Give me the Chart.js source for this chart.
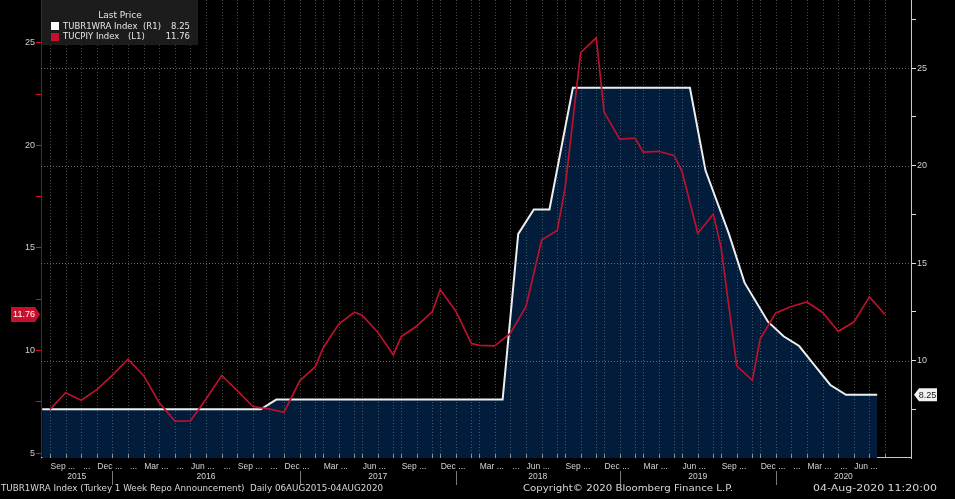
<!DOCTYPE html>
<html>
<head>
<meta charset="utf-8">
<script src="https://cdn.jsdelivr.net/npm/chart.js@4.4.1/dist/chart.umd.min.js"></script>
<style>
  html, body { margin: 0; padding: 0; background: #000; }
  #wrap { width: 955px; height: 499px; position: relative; }
</style>
</head>
<body>
<div id="wrap"><canvas id="chart" width="955" height="499"></canvas></div>
<script>
// --- DATOS ---
// Turkey 1 week repo (announcement dates) -> right axis
const repoDates = [
    '2015-08-20', '2015-09-24', '2015-10-21', '2015-11-24', '2015-12-22',
    '2016-01-19', '2016-02-23', '2016-03-24', '2016-04-21', '2016-05-24', '2016-06-21',
    '2016-07-19', '2016-08-23', '2016-09-22', '2016-10-20', '2016-11-24', '2016-12-20',
    '2017-01-24', '2017-03-16', '2017-04-26', '2017-06-15', '2017-07-27', '2017-09-14',
    '2017-10-26', '2017-12-14',
    '2018-01-18', '2018-03-07', '2018-04-25', '2018-05-28', '2018-06-07', '2018-07-24',
    '2018-09-13', '2018-10-25', '2018-12-13',
    '2019-01-16', '2019-03-06', '2019-04-25', '2019-06-12', '2019-07-25', '2019-09-12',
    '2019-10-24', '2019-12-12',
    '2020-01-16', '2020-02-19', '2020-03-17', '2020-04-22', '2020-05-21', '2020-06-25', '2020-07-23'
];
const repoValues = [
    7.5, 7.5, 7.5, 7.5, 7.5,
    7.5, 7.5, 7.5, 7.5, 7.5, 7.5,
    7.5, 7.5, 7.5, 7.5, 8.0, 8.0,
    8.0, 8.0, 8.0, 8.0, 8.0, 8.0,
    8.0, 8.0,
    8.0, 8.0, 8.0, 16.5, 17.75, 17.75,
    24.0, 24.0, 24.0,
    24.0, 24.0, 24.0, 24.0, 19.75, 16.5,
    14.0, 12.0,
    11.25, 10.75, 9.75, 8.75, 8.25, 8.25, 8.25
];

// Turkey CPI YoY, monthly from Aug 2015 (month-end dates) -> left axis
const cpiFirstMonth = [2015, 8];
const cpiValues = [
    7.14, 7.95, 7.58, 8.10, 8.81,
    9.58, 8.78, 7.46, 6.57, 6.58, 7.64, 8.79, 8.05, 7.28, 7.16, 7.00, 8.53,
    9.22, 10.13, 11.29, 11.87, 11.72, 10.90, 9.79, 10.68, 11.20, 11.90, 12.98, 11.92,
    10.35, 10.26, 10.23, 10.85, 12.15, 15.39, 15.85, 17.90, 24.52, 25.24, 21.62, 20.30,
    20.35, 19.67, 19.71, 19.50, 18.71, 15.72, 16.65, 15.01, 9.26, 8.55, 10.56, 11.84,
    12.15, 12.37, 11.86, 10.94, 11.39, 12.62, 11.76
];

// month labels Sep 2015 .. Jul 2020 ('' = not shown)
const monthTickLabels = [
    'Sep', '...', '...', 'Dec',
    '...', '...', 'Mar', '...', '...', 'Jun', '...', '...', 'Sep', '...', '...', 'Dec',
    '...', '', 'Mar', '...', '', 'Jun', '...', '', 'Sep', '...', '', 'Dec',
    '...', '', 'Mar', '...', '...', 'Jun', '...', '', 'Sep', '...', '', 'Dec',
    '...', '', 'Mar', '...', '', 'Jun', '...', '', 'Sep', '...', '', 'Dec',
    '...', '...', 'Mar', '...', '...', 'Jun', '...'
];
const yearLabels = ['2015', '2016', '2017', '2018', '2019', '2020'];
const leftTicks = [5, 10, 15, 20, 25];
const rightTicks = [10, 15, 20, 25];

const lastRepo = repoValues[repoValues.length - 1];
const lastCpi = cpiValues[cpiValues.length - 1];

// --- EJE X: una posicion por fecha con dato (como Bloomberg) ---
function monthEnd(y, m) {
    const d = new Date(Date.UTC(y, m, 0));
    return d.toISOString().slice(0, 10);
}
const cpiDates = cpiValues.map((v, i) => {
    const m0 = cpiFirstMonth[1] - 1 + i;
    return monthEnd(cpiFirstMonth[0] + Math.floor(m0 / 12), (m0 % 12) + 1);
});
const allDates = Array.from(new Set(repoDates.concat(cpiDates))).sort();
const slot = {};
allDates.forEach((d, i) => slot[d] = i);

const repoPoints = repoDates.map((d, i) => ({ x: slot[d], y: repoValues[i] }));
const cpiPoints = cpiDates.map((d, i) => ({ x: slot[d], y: cpiValues[i] }));
const monthBounds = cpiDates.map(d => slot[d]); // start of next month

const FONT = '"Liberation Sans", Arial, sans-serif';
const DV = '"DejaVu Sans", sans-serif';

// texto estirado a un ancho dado
function fitText(c, text, x, width, y) {
    const w = c.measureText(text).width;
    c.save();
    c.translate(x, y);
    c.scale(width / w, 1);
    c.textAlign = 'left';
    c.fillText(text, 0, 0);
    c.restore();
}

// --- PLUGIN: grid sobre el relleno, etiquetas y textos ---
const overlay = {
    id: 'overlay',
    beforeDatasetsDraw(chart) {
        const { ctx, chartArea: a } = chart;
        ctx.save();
        ctx.strokeStyle = '#c8c8c8';
        ctx.lineWidth = 1;
        ctx.beginPath();
        ctx.moveTo(a.left, a.bottom - 0.5);
        ctx.lineTo(a.right, a.bottom - 0.5);
        ctx.stroke();
        ctx.restore();
    },
    afterDatasetDraw(chart, args) {
        if (args.index !== 0) return;
        const { ctx, chartArea: a, scales } = chart;
        ctx.save();
        ctx.beginPath();
        ctx.rect(a.left, a.top, a.right - a.left, a.bottom - a.top);
        ctx.clip();
        ctx.lineWidth = 1;
        ctx.setLineDash([1, 2]);
        ctx.strokeStyle = 'rgba(150,150,150,0.45)';
        monthBounds.forEach(i => {
            const px = Math.round(scales.x.getPixelForValue(i)) + 0.5;
            ctx.beginPath();
            ctx.moveTo(px, a.top);
            ctx.lineTo(px, a.bottom);
            ctx.stroke();
        });
        ctx.strokeStyle = 'rgba(170,170,170,0.6)';
        rightTicks.forEach(v => {
            const py = Math.round(scales.yR.getPixelForValue(v)) + 0.5;
            ctx.beginPath();
            ctx.moveTo(a.left, py);
            ctx.lineTo(a.right, py);
            ctx.stroke();
        });
        ctx.setLineDash([]);
        ctx.strokeStyle = 'rgba(190,190,190,0.7)';
        monthBounds.forEach(i => {
            const px = Math.round(scales.x.getPixelForValue(i)) + 0.5;
            ctx.beginPath();
            ctx.moveTo(px, a.bottom - 4);
            ctx.lineTo(px, a.bottom);
            ctx.stroke();
        });
        ctx.restore();
    },
    afterDraw(chart) {
        const { ctx, chartArea: a, scales } = chart;
        ctx.save();

        // leyenda
        ctx.fillStyle = '#1c1c1c';
        ctx.fillRect(a.left + 1, 0, 156, 45);
        ctx.textBaseline = 'middle';
        ctx.font = '9px ' + DV;
        ctx.fillStyle = '#e6e6e6';
        ctx.textAlign = 'center';
        ctx.fillText('Last Price', 120, 15.5);
        ctx.font = '8.5px ' + DV;
        ctx.textAlign = 'left';
        ctx.fillStyle = '#ffffff';
        ctx.fillRect(51, 22, 8, 8);
        ctx.fillStyle = '#c8102e';
        ctx.fillRect(51, 33, 8, 8);
        ctx.fillStyle = '#e6e6e6';
        ctx.fillText('TUBR1WRA Index', 63, 26.5);
        ctx.fillText('(R1)', 143, 26.5);
        ctx.fillText('TUCPIY Index', 63, 37);
        ctx.fillText('(L1)', 128, 37);
        ctx.textAlign = 'right';
        ctx.fillText(lastRepo.toFixed(2), 190, 26.5);
        ctx.fillText(lastCpi.toFixed(2), 190, 37);

        // etiqueta roja eje izquierdo
        const yc = scales.yL.getPixelForValue(lastCpi);
        ctx.fillStyle = '#c8102e';
        ctx.beginPath();
        ctx.moveTo(11, yc - 7.5);
        ctx.lineTo(35, yc - 7.5);
        ctx.lineTo(40, yc);
        ctx.lineTo(35, yc + 7.5);
        ctx.lineTo(11, yc + 7.5);
        ctx.closePath();
        ctx.fill();
        ctx.fillStyle = '#ffffff';
        ctx.textAlign = 'center';
        ctx.font = '9px ' + FONT;
        ctx.fillText(lastCpi.toFixed(2), 24, yc + 0.5);

        // etiqueta blanca eje derecho
        const yr = scales.yR.getPixelForValue(lastRepo);
        ctx.fillStyle = '#f2f2f2';
        ctx.beginPath();
        ctx.moveTo(914, yr);
        ctx.lineTo(919, yr - 6.5);
        ctx.lineTo(937, yr - 6.5);
        ctx.lineTo(937, yr + 6.5);
        ctx.lineTo(919, yr + 6.5);
        ctx.closePath();
        ctx.fill();
        ctx.fillStyle = '#111';
        ctx.fillText(lastRepo.toFixed(2), 927.5, yr + 0.5);

        // etiquetas de meses
        ctx.font = '8.5px ' + FONT;
        ctx.fillStyle = '#d4d4d4';
        ctx.textAlign = 'left';
        let prevEnd = -1, prevName = false;
        monthTickLabels.forEach((lab, m) => {
            const bx = scales.x.getPixelForValue(monthBounds[m]);
            if (!lab) { prevName = false; return; }
            let x;
            if (lab !== '...') x = bx + 0.5;
            else if (prevName) x = prevEnd + 2.5;
            else x = bx + 2;
            ctx.fillText(lab, x, 467);
            prevEnd = x + ctx.measureText(lab).width;
            prevName = lab !== '...';
        });

        // años y separadores
        const yearStarts = [a.left];
        cpiDates.forEach((d, i) => { if (d.slice(5, 7) === '12') yearStarts.push(scales.x.getPixelForValue(monthBounds[i])); });
        yearStarts.push(a.right);
        ctx.textAlign = 'center';
        yearLabels.forEach((y, i) => {
            ctx.fillText(y, (yearStarts[i] + yearStarts[i + 1]) / 2, 477);
        });
        ctx.strokeStyle = '#7a7a7a';
        ctx.lineWidth = 1;
        for (let i = 1; i < yearStarts.length - 1; i++) {
            const px = Math.round(yearStarts[i]) + 0.5;
            ctx.beginPath();
            ctx.moveTo(px, 471);
            ctx.lineTo(px, 485);
            ctx.stroke();
        }

        // pie
        ctx.font = '9px ' + DV;
        ctx.fillStyle = '#d8d8d8';
        fitText(ctx, 'TUBR1WRA Index (Turkey 1 Week Repo Announcement)  Daily 06AUG2015-04AUG2020', 1, 382, 489);
        fitText(ctx, 'Copyright\u00A9 2020 Bloomberg Finance L.P.', 523, 210, 489);
        fitText(ctx, '04-Aug-2020 11:20:00', 813, 124, 489);

        ctx.restore();
    }
};

// --- GRAFICO ---
const ctx = document.getElementById('chart').getContext('2d');
const chart = new Chart(ctx, {
    type: 'line',
    data: {
        datasets: [
            {
                label: 'fill',
                data: repoPoints,
                yAxisID: 'yR',
                borderWidth: 0,
                backgroundColor: '#021d3b',
                fill: 'start',
                pointRadius: 0,
                tension: 0,
                order: 3
            },
            {
                label: 'TUBR1WRA Index (R1)',
                data: repoPoints,
                yAxisID: 'yR',
                borderColor: '#eeeeee',
                borderWidth: 2,
                fill: false,
                pointRadius: 0,
                tension: 0,
                order: 2
            },
            {
                label: 'TUCPIY Index (L1)',
                data: cpiPoints,
                yAxisID: 'yL',
                borderColor: '#bb112d',
                borderWidth: 1.7,
                fill: false,
                pointRadius: 0,
                tension: 0,
                order: 1
            }
        ]
    },
    options: {
        responsive: false,
        animation: false,
        devicePixelRatio: 1,
        layout: { padding: { left: 0, right: 0, top: 0, bottom: 41 } },
        plugins: { legend: { display: false }, tooltip: { enabled: false } },
        scales: {
            x: {
                type: 'linear',
                display: false,
                min: -0.153,
                max: 111.33
            },
            yL: {
                position: 'left',
                min: 4.77,
                max: 27.08,
                ticks: {
                    stepSize: 2.5,
                    includeBounds: false,
                    color: '#cfcfcf',
                    padding: 1,
                    font: { family: FONT, size: 9 },
                    callback: v => leftTicks.includes(v) ? String(v) : ''
                },
                grid: { drawOnChartArea: false, tickLength: 5, tickColor: '#d0122f', tickWidth: 1 },
                border: { color: '#7d1022', width: 1 },
                afterFit(s) { s.width = 41; s.paddingTop = 0; s.paddingBottom = 0; }
            },
            yR: {
                position: 'right',
                min: 5.005,
                max: 28.5,
                ticks: {
                    stepSize: 2.5,
                    includeBounds: false,
                    color: '#cfcfcf',
                    padding: 1,
                    font: { family: FONT, size: 9 },
                    callback: v => rightTicks.includes(v) ? String(v) : ''
                },
                grid: { drawOnChartArea: false, tickLength: 5, tickColor: '#e0e0e0', tickWidth: 1 },
                border: { color: '#c8c8c8', width: 1 },
                afterFit(s) { s.width = 44; s.paddingTop = 0; s.paddingBottom = 0; }
            }
        }
    },
    plugins: [overlay]
});
</script>
</body>
</html>
